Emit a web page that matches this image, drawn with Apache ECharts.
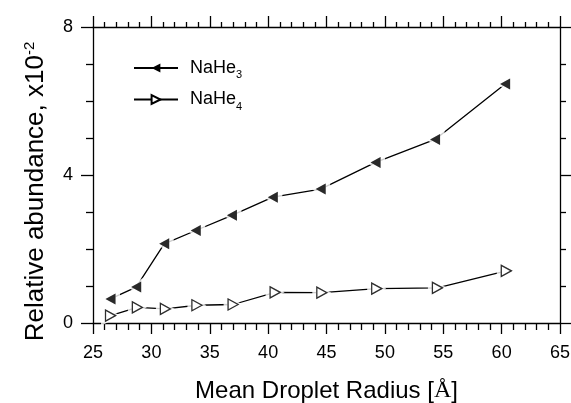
<!DOCTYPE html>
<html><head><meta charset="utf-8">
<script src="https://cdn.jsdelivr.net/npm/echarts@6/dist/echarts.min.js"></script>
<style>html,body{margin:0;padding:0;background:#fff}#c{width:571px;height:403px}</style>
</head><body><div id="c"></div>
<script>
var radiusNaHe3 = [26.5, 28.7, 31.1, 33.8, 36.9, 40.4, 44.5, 49.2, 54.3, 60.3];
var abundNaHe3  = [0.65, 0.97, 2.14, 2.50, 2.91, 3.40, 3.62, 4.34, 4.96, 6.46];
var radiusNaHe4 = [26.5, 28.8, 31.2, 33.9, 37.0, 40.6, 44.6, 49.3, 54.5, 60.4];
var abundNaHe4  = [0.20, 0.42, 0.38, 0.48, 0.50, 0.83, 0.82, 0.93, 0.95, 1.41];
var seriesNames = ['NaHe3', 'NaHe4'];
var xTicks = [25, 30, 35, 40, 45, 50, 55, 60, 65];
var yTicks = [0, 4, 8];

function pairs(xs, ys) { return xs.map(function (x, i) { return [x, ys[i]]; }); }
var F = 'Liberation Sans, Arial, sans-serif';
var black = '#000';

var chart = echarts.init(document.getElementById('c'), null, {renderer: 'canvas'});
var tickStyle = {color: black, width: 1.3};
function xAx(pos, labels) {
  return {
    type: 'value', position: pos, min: xTicks[0], max: xTicks[xTicks.length - 1], interval: 5,
    axisLine: {show: true, onZero: false, lineStyle: {color: black, width: 1.3}},
    axisTick: {show: true, inside: false, length: 11, lineStyle: tickStyle},
    minorTick: {show: true, splitNumber: 5, length: pos === 'top' ? 5 : 7, lineStyle: tickStyle},
    splitLine: {show: false}, minorSplitLine: {show: false},
    axisLabel: {show: labels, color: black, fontFamily: F, fontSize: 18, margin: 21},
    name: labels ? 'Mean Droplet Radius [{s|Å}]' : '', nameLocation: 'middle', nameGap: 56,
    nameTextStyle: {color: black, fontFamily: F, fontSize: 24, rich: {s: {fontFamily: 'Liberation Serif, serif', fontSize: 24, color: black}}}
  };
}
function yAx(pos, labels) {
  return {
    type: 'value', position: pos, min: yTicks[0], max: yTicks[yTicks.length - 1], interval: 4,
    axisLine: {show: true, onZero: false, lineStyle: {color: black, width: 1.3}},
    axisTick: {show: true, inside: false, length: 12, lineStyle: tickStyle},
    minorTick: {show: true, splitNumber: 4, length: pos === 'right' ? 6 : 7, lineStyle: tickStyle},
    splitLine: {show: false}, minorSplitLine: {show: false},
    axisLabel: {show: labels, color: black, fontFamily: F, fontSize: 18, margin: 20},
    name: labels ? 'Relative abundance, x10{sup|-2}' : '', nameLocation: 'middle', nameGap: 44, nameRotate: 90,
    nameTextStyle: {color: black, fontFamily: F, fontSize: 26, padding: [0, 33, 0, 0],
      rich: {sup: {fontFamily: F, fontSize: 15, color: black, verticalAlign: 'top', padding: [0, 0, 12, 0]}}}
  };
}

var lineStyle = {color: black, width: 1.3};
var d3 = pairs(radiusNaHe3, abundNaHe3);
var d4 = pairs(radiusNaHe4, abundNaHe4);

chart.setOption({
  animation: false,
  backgroundColor: '#fff',
  grid: {left: 93, right: 11, top: 27, bottom: 80, containLabel: false, outerBoundsMode: 'none'},
  xAxis: [xAx('bottom', true), xAx('top', false)],
  yAxis: [yAx('left', true), yAx('right', false)],
  legend: {
    data: seriesNames, orient: 'vertical', left: 133, top: 59, itemGap: 10, padding: 0,
    itemWidth: 44, itemHeight: 11, symbolRotate: 'inherit',
    textStyle: {color: black, fontFamily: F, fontSize: 18, padding: [0, 0, 0, 7],
      rich: {sub: {fontFamily: F, fontSize: 11, color: black, verticalAlign: 'bottom', padding: [14, 0, 0, 0]}}},
    formatter: function (n) { return n.replace(/(\d)$/, '{sub|$1}'); }
  },
  series: [
    {name: seriesNames[0], type: 'line', data: d3, z: 2, lineStyle: lineStyle,
     symbol: 'triangle', symbolRotate: 90, symbolSize: [11, 10], showAllSymbol: true,
     itemStyle: {color: black}},
    {name: seriesNames[1], type: 'line', data: d4, z: 2, lineStyle: lineStyle,
     symbol: 'triangle', symbolRotate: -90, symbolSize: [11, 10], showAllSymbol: true,
     itemStyle: {color: '#fff', borderColor: black, borderWidth: 1.3}},
    {name: 'halo3', type: 'scatter', data: d3, z: 3, silent: true,
     symbol: 'triangle', symbolRotate: 90, symbolSize: [21, 19],
     itemStyle: {color: '#fff'}},
    {name: 'halo4', type: 'scatter', data: d4, z: 3, silent: true,
     symbol: 'triangle', symbolRotate: -90, symbolSize: [21, 19],
     itemStyle: {color: '#fff'}},
    {name: 'mark3', type: 'scatter', data: d3, z: 4, silent: true,
     symbol: 'triangle', symbolRotate: 90, symbolSize: [11, 10],
     itemStyle: {color: black}},
    {name: 'mark4', type: 'scatter', data: d4, z: 4, silent: true,
     symbol: 'triangle', symbolRotate: -90, symbolSize: [11, 10],
     itemStyle: {color: '#fff', borderColor: black, borderWidth: 1.3}}
  ]
});
</script></body></html>
